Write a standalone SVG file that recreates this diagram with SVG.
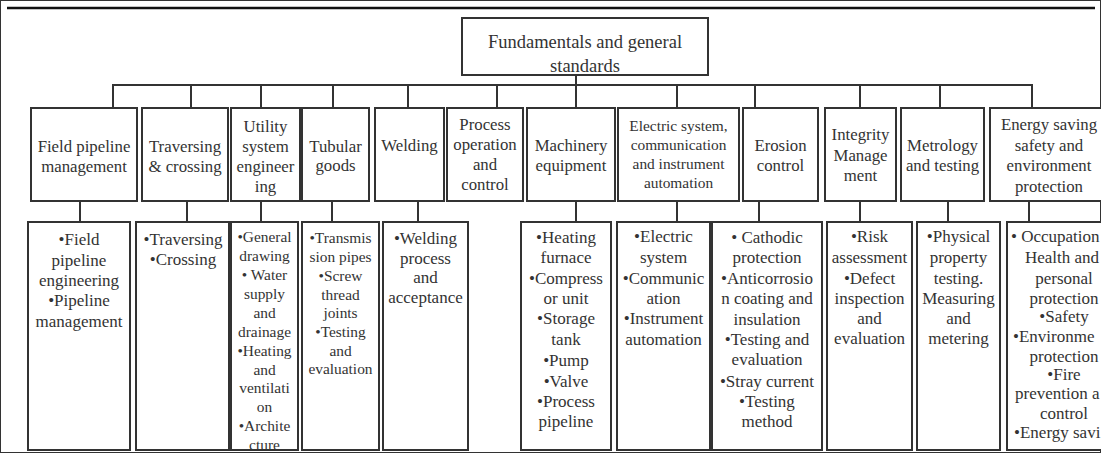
<svg xmlns="http://www.w3.org/2000/svg" width="1101" height="453" viewBox="0 0 1101 453">
<style>
text{font-family:"Liberation Serif","Times New Roman",serif;fill:#333;text-anchor:middle}
.t1{font-size:16.8px}
.t2{font-size:17px}
.ts{font-size:15.4px}
.s{text-anchor:start}
rect{fill:#fff;stroke:#333;stroke-width:2}
.c line{stroke:#333;stroke-width:2}
</style>
<rect width="1101" height="453" fill="#fff" stroke="none"/>
<line x1="7" y1="8" x2="1095" y2="8" stroke="#111" stroke-width="2.5"/>
<g class="c" id="connectors">
<line x1="576" y1="75" x2="576" y2="85"/>
<line x1="112" y1="85" x2="1033" y2="85"/>
<line x1="113" y1="85" x2="113" y2="108"/>
<line x1="191" y1="85" x2="191" y2="108"/>
<line x1="261" y1="85" x2="261" y2="108"/>
<line x1="333" y1="85" x2="333" y2="108"/>
<line x1="408" y1="85" x2="408" y2="108"/>
<line x1="497" y1="85" x2="497" y2="108"/>
<line x1="576" y1="85" x2="576" y2="108"/>
<line x1="677" y1="85" x2="677" y2="108"/>
<line x1="755" y1="85" x2="755" y2="108"/>
<line x1="860" y1="85" x2="860" y2="108"/>
<line x1="940" y1="85" x2="940" y2="108"/>
<line x1="1032" y1="85" x2="1032" y2="108"/>
<line x1="80" y1="201" x2="80" y2="222"/>
<line x1="187" y1="201" x2="187" y2="222"/>
<line x1="261" y1="201" x2="261" y2="222"/>
<line x1="332" y1="201" x2="332" y2="222"/>
<line x1="418" y1="201" x2="418" y2="222"/>
<line x1="576" y1="201" x2="576" y2="222"/>
<line x1="677" y1="201" x2="677" y2="222"/>
<line x1="759" y1="201" x2="759" y2="222"/>
<line x1="860" y1="201" x2="860" y2="222"/>
<line x1="948" y1="201" x2="948" y2="222"/>
<line x1="1029" y1="201" x2="1029" y2="222"/>
</g>
<g id="root">
<rect x="462" y="18" width="246" height="57"/>
<text x="585" y="48" style="font-size:18.5px">Fundamentals and general</text>
<text x="585" y="72" style="font-size:18.5px">standards</text>
</g>
<g id="l1-field" class="t1">
<rect x="31" y="108" width="106" height="93"/>
<text x="84" y="152">Field pipeline</text>
<text x="84" y="172">management</text>
</g>
<g id="l1-trav" class="t1">
<rect x="142" y="108" width="86" height="93"/>
<text x="185" y="152">Traversing</text>
<text x="185" y="172">&amp; crossing</text>
</g>
<g id="l1-util" class="t1">
<rect x="231" y="108" width="69" height="93"/>
<text x="265.5" y="132">Utility</text>
<text x="265.5" y="152">system</text>
<text x="265.5" y="172">engineer</text>
<text x="265.5" y="192">ing</text>
</g>
<g id="l1-tub" class="t1">
<rect x="302" y="108" width="67" height="93"/>
<text x="335.5" y="152">Tubular</text>
<text x="335.5" y="171">goods</text>
</g>
<g id="l1-weld" class="t1">
<rect x="375" y="108" width="69" height="93"/>
<text x="409.5" y="151">Welding</text>
</g>
<g id="l1-proc" class="t1">
<rect x="447" y="108" width="76" height="93"/>
<text x="485" y="130">Process</text>
<text x="485" y="150">operation</text>
<text x="485" y="170">and</text>
<text x="485" y="190">control</text>
</g>
<g id="l1-mach" class="t1">
<rect x="527" y="108" width="88" height="93"/>
<text x="571" y="151">Machinery</text>
<text x="571" y="171">equipment</text>
</g>
<g id="l1-elec" class="ts">
<rect x="618" y="108" width="121" height="93"/>
<text x="678.5" y="131">Electric system,</text>
<text x="678.5" y="150">communication</text>
<text x="678.5" y="169">and instrument</text>
<text x="678.5" y="188">automation</text>
</g>
<g id="l1-eros" class="t1">
<rect x="743" y="108" width="75" height="93"/>
<text x="780.5" y="151">Erosion</text>
<text x="780.5" y="171">control</text>
</g>
<g id="l1-integ" class="t1">
<rect x="825" y="108" width="71" height="93"/>
<text x="860.5" y="140">Integrity</text>
<text x="860.5" y="161">Manage</text>
<text x="860.5" y="181">ment</text>
</g>
<g id="l1-metro" class="t1">
<rect x="901" y="108" width="83" height="93"/>
<text x="942.5" y="151">Metrology</text>
<text x="942.5" y="171">and testing</text>
</g>
<g id="l1-energy" class="t1">
<rect x="990" y="108" width="118" height="93"/>
<text x="1049" y="130">Energy saving</text>
<text x="1049" y="151">safety and</text>
<text x="1049" y="171">environment</text>
<text x="1049" y="192">protection</text>
</g>
<g id="l2-field" class="t2">
<rect x="28" y="222" width="102" height="228"/>
<text x="79" y="245">•Field</text>
<text x="79" y="266">pipeline</text>
<text x="79" y="286">engineering</text>
<text x="79" y="306">•Pipeline</text>
<text x="79" y="327">management</text>
</g>
<g id="l2-trav" class="t2">
<rect x="136" y="222" width="93" height="228"/>
<text x="183" y="245">•Traversing</text>
<text x="183" y="265">•Crossing</text>
</g>
<g id="l2-util" class="ts">
<rect x="231" y="222" width="67" height="228"/>
<text x="264.5" y="242">•General</text>
<text x="264.5" y="261">drawing</text>
<text x="264.5" y="280">• Water</text>
<text x="264.5" y="299">supply</text>
<text x="264.5" y="318">and</text>
<text x="264.5" y="337">drainage</text>
<text x="264.5" y="356">•Heating</text>
<text x="264.5" y="375">and</text>
<text x="264.5" y="393">ventilati</text>
<text x="264.5" y="412">on</text>
<text x="264.5" y="431">•Archite</text>
<text x="264.5" y="450">cture</text>
</g>
<g id="l2-tub" class="ts">
<rect x="302" y="222" width="77" height="228"/>
<text x="340.5" y="243">•Transmis</text>
<text x="340.5" y="262">sion pipes</text>
<text x="340.5" y="281">•Screw</text>
<text x="340.5" y="300">thread</text>
<text x="340.5" y="318">joints</text>
<text x="340.5" y="337">•Testing</text>
<text x="340.5" y="356">and</text>
<text x="340.5" y="374">evaluation</text>
</g>
<g id="l2-weld" class="t2">
<rect x="383" y="222" width="85" height="228"/>
<text x="425.5" y="244">•Welding</text>
<text x="425.5" y="264">process</text>
<text x="425.5" y="283">and</text>
<text x="425.5" y="303">acceptance</text>
</g>
<g id="l2-mach" class="t2">
<rect x="521" y="222" width="90" height="228"/>
<text x="566" y="243">•Heating</text>
<text x="566" y="263">furnace</text>
<text x="566" y="284">•Compress</text>
<text x="566" y="304">or unit</text>
<text x="566" y="324">•Storage</text>
<text x="566" y="345">tank</text>
<text x="566" y="366">•Pump</text>
<text x="566" y="387">•Valve</text>
<text x="566" y="407">•Process</text>
<text x="566" y="427">pipeline</text>
</g>
<g id="l2-elec" class="t2">
<rect x="617" y="222" width="93" height="228"/>
<text x="663.5" y="242">•Electric</text>
<text x="663.5" y="263">system</text>
<text x="663.5" y="284">•Communic</text>
<text x="663.5" y="304">ation</text>
<text x="663.5" y="324">•Instrument</text>
<text x="663.5" y="345">automation</text>
</g>
<g id="l2-eros" class="t2">
<rect x="712" y="222" width="110" height="228"/>
<text x="767" y="243">• Cathodic</text>
<text x="767" y="263">protection</text>
<text x="767" y="284">•Anticorrosio</text>
<text x="767" y="304">n coating and</text>
<text x="767" y="325">insulation</text>
<text x="767" y="345">•Testing and</text>
<text x="767" y="365">evaluation</text>
<text x="767" y="387">•Stray current</text>
<text x="767" y="407">•Testing</text>
<text x="767" y="427">method</text>
</g>
<g id="l2-integ" class="t2">
<rect x="827" y="222" width="85" height="228"/>
<text x="869.5" y="242">•Risk</text>
<text x="869.5" y="263">assessment</text>
<text x="869.5" y="284">•Defect</text>
<text x="869.5" y="304">inspection</text>
<text x="869.5" y="324">and</text>
<text x="869.5" y="344">evaluation</text>
</g>
<g id="l2-metro" class="t2">
<rect x="917" y="222" width="83" height="228"/>
<text x="958.5" y="242">•Physical</text>
<text x="958.5" y="263">property</text>
<text x="958.5" y="284">testing.</text>
<text x="958.5" y="304">Measuring</text>
<text x="958.5" y="324">and</text>
<text x="958.5" y="344">metering</text>
</g>
<g id="l2-energy" class="t2">
<rect x="1007" y="222" width="110" height="228"/>
<text class="s" x="1011" y="242">• Occupation</text>
<text class="s" x="1025" y="263">Health and</text>
<text x="1064" y="284">personal</text>
<text x="1064" y="304">protection</text>
<text x="1064" y="322">•Safety</text>
<text class="s" x="1013" y="342">•Environme</text>
<text x="1064" y="362">protection</text>
<text x="1064" y="380">•Fire</text>
<text class="s" x="1015" y="399">prevention a</text>
<text x="1064" y="419">control</text>
<text class="s" x="1014" y="438">•Energy savi</text>
</g>
</svg>
